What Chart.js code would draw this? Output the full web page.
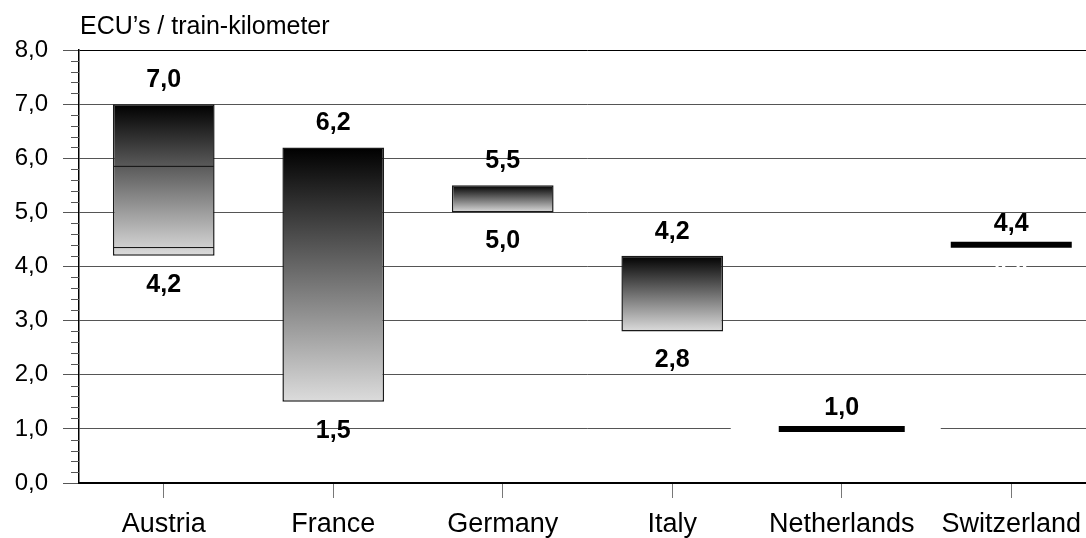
<!DOCTYPE html>
<html>
<head>
<meta charset="utf-8">
<script src="https://cdn.jsdelivr.net/npm/chart.js@4/dist/chart.umd.min.js"></script>
<style>
  html, body { margin: 0; padding: 0; background: #fff; overflow: hidden; }
  canvas { display: block; }
</style>
</head>
<body>
<canvas id="costChart" width="1096" height="538"></canvas>
<script>
// values
const countries = ['Austria', 'France', 'Germany', 'Italy', 'Netherlands', 'Switzerland'];
const lowValues = [4.2, 1.5, 5.0, 2.8, 1.0, 4.4];
const highValues = [7.0, 6.2, 5.5, 4.2, 1.0, 4.4];
const austriaInnerLines = [5.85, 4.35];
const yTicks = [0, 1, 2, 3, 4, 5, 6, 7, 8];
const axisTitle = 'ECU\u2019s / train-kilometer';

const FONT = '"Liberation Sans", Arial, Helvetica, sans-serif';

const fmt = v => v.toFixed(1).replace('.', ',');

// bars only where there is a range
const rangeData = countries.map((c, i) =>
  lowValues[i] !== highValues[i] ? [lowValues[i], highValues[i]] : null);

// single-value countries are drawn as a thick level line
const levelData = countries.map((c, i) =>
  lowValues[i] === highValues[i] ? highValues[i] : null);

function barGradient( context ) {
  const chart = context.chart;
  const { ctx, chartArea, scales } = chart;
  if ( !chartArea ) return '#888';
  const i = context.dataIndex;
  const top = scales.y.getPixelForValue( highValues[i] );
  const bottom = scales.y.getPixelForValue( lowValues[i] );
  const g = ctx.createLinearGradient( 0, top, 0, bottom );
  g.addColorStop( 0, '#000000' );
  g.addColorStop( 1, '#dcdcdc' );
  return g;
}

const decorPlugin = {
  id: 'decor',
  beforeDatasetsDraw( chart ) {
    // white patch behind the Netherlands level line (hides the grid line)
    const { ctx, scales } = chart;
    const i = countries.indexOf('Netherlands');
    const cx = scales.x.getPixelForValue( i );
    const cy = scales.y.getPixelForValue( lowValues[i] );
    ctx.save();
    ctx.fillStyle = '#fff';
    ctx.fillRect( cx - 111, cy - 4, 210, 8 );
    ctx.restore();
  },
  afterDatasetsDraw( chart ) {
    const { ctx, scales } = chart;
    ctx.save();
    ctx.font = 'bold 25px ' + FONT;
    ctx.textAlign = 'center';
    ctx.textBaseline = 'middle';

    countries.forEach(( c, i ) => {
      const x = scales.x.getPixelForValue( i );
      const yTop = scales.y.getPixelForValue( highValues[i] );
      const yBot = scales.y.getPixelForValue( lowValues[i] );
      const isLevel = lowValues[i] === highValues[i];

      ctx.fillStyle = '#000';
      ctx.fillText( fmt( highValues[i] ), x, yTop - ( isLevel ? 21 : 24 ) );

      // lower label: hidden (white) on the level lines
      ctx.fillStyle = isLevel ? '#fff' : '#000';
      ctx.fillText( fmt( lowValues[i] ), x, yBot + ( isLevel ? 23 : 29 ) );
    });

    // minor ticks every 0.2
    const left = chart.chartArea.left;
    ctx.strokeStyle = '#555';
    ctx.lineWidth = 1;
    for ( let k = 1; k < 40; k++ ) {
      if ( k % 5 === 0 ) continue;
      const y = Math.round( scales.y.getPixelForValue( k * 0.2 ) ) + 0.5;
      ctx.beginPath();
      ctx.moveTo( left - 8, y );
      ctx.lineTo( left, y );
      ctx.stroke();
    }

    // axis title above the plot
    ctx.font = '25px ' + FONT;
    ctx.textAlign = 'left';
    ctx.fillStyle = '#000';
    ctx.fillText( axisTitle, left + 1, 27 );
    ctx.restore();
  }
};

const chart = new Chart( document.getElementById('costChart'), {
  data: {
    labels: countries,
    datasets: [
      {
        type: 'bar',
        label: 'range',
        data: rangeData,
        backgroundColor: barGradient,
        borderColor: '#1a1a1a',
        borderWidth: 1.5,
        borderSkipped: false,
        barPercentage: 0.6,
        categoryPercentage: 1.0,
        order: 3
      },
      {
        type: 'line',
        label: 'austria split',
        data: austriaInnerLines.map( v => ({ x: 'Austria', y: v }) ),
        showLine: false,
        pointStyle: 'line',
        pointRadius: 50,
        pointHoverRadius: 50,
        pointBorderWidth: 1,
        pointBorderColor: '#111',
        order: 2
      },
      {
        type: 'line',
        label: 'level',
        data: levelData,
        showLine: false,
        pointStyle: 'line',
        pointRadius: [0, 0, 0, 0, 63, 60.5],
        pointHoverRadius: [0, 0, 0, 0, 63, 60.5],
        pointBorderWidth: 6,
        pointBorderColor: '#000',
        order: 1
      }
    ]
  },
  options: {
    responsive: false,
    animation: false,
    events: [],
    // the long level-line points would otherwise push the plot inwards
    layout: { autoPadding: false, padding: { top: 50, right: 0, bottom: 0, left: 0 } },
    plugins: {
      legend: { display: false },
      tooltip: { enabled: false },
      title: { display: false }
    },
    scales: {
      x: {
        type: 'category',
        offset: true,
        grid: {
          offset: false,
          drawOnChartArea: false,
          tickLength: 15,
          tickColor: '#777',
          tickWidth: 1
        },
        border: { display: true, color: '#000', width: 2 },
        ticks: {
          color: '#000',
          padding: 10,
          font: { family: FONT, size: 27 }
        },
        afterFit( scale ) { scale.height = 55; }
      },
      y: {
        min: 0,
        max: 8,
        afterBuildTicks( scale ) {
          scale.ticks = yTicks.map( v => ({ value: v }) );
        },
        grid: {
          color: ctx => ( ctx.tick && ( ctx.tick.value === 8 || ctx.tick.value === 0 ) ) ? '#000' : '#555',
          lineWidth: 1,
          tickLength: 16,
          tickColor: '#555'
        },
        border: { display: true, color: '#000', width: 1.5 },
        ticks: {
          color: '#000',
          padding: 15,
          font: { family: FONT, size: 24 },
          callback: v => fmt( v )
        },
        afterFit( scale ) { scale.width = 79; }
      }
    }
  },
  plugins: [ decorPlugin ]
});
</script>
</body>
</html>
